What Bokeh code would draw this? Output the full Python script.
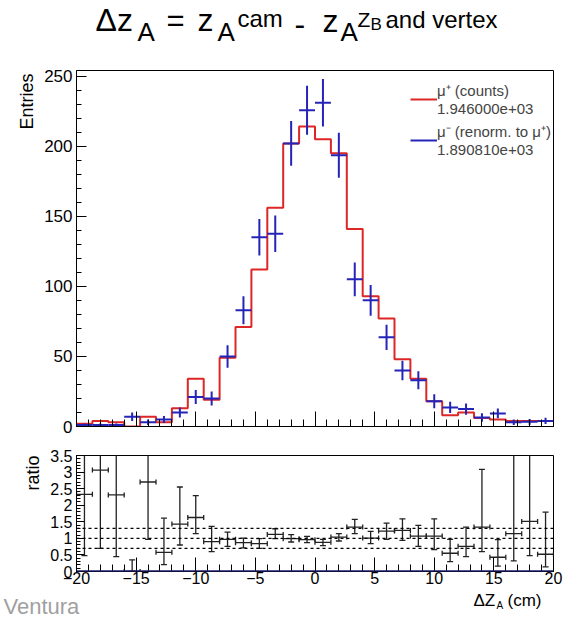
import numpy as np
from bokeh.plotting import figure
from bokeh.models import (Range1d, SingleIntervalTicker, CustomJSTickFormatter, Label, Span,
                          Legend, LegendItem, ColumnDataSource, Title)
from bokeh.layouts import column
from bokeh.embed import file_html
from bokeh.resources import INLINE

# ---------------- data ----------------
x_min, x_max, n_bins = -20.0, 20.0, 30
mu_plus_counts = [2, 4, 3, 0, 7, 3, 13, 34, 19, 49, 71, 112, 156, 202, 214,
                  205, 195, 141, 93, 77, 48, 34, 18, 8, 10, 6, 5, 4, 4, 4]
mu_minus_renorm = [1, 1, 1, 7, 3, 5, 10, 21, 20, 50, 83, 135, 137.5, 202, 225.7,
                   231, 193.5, 105, 90, 63.6, 40, 33, 18, 13.6, 12.4, 6.4, 9.3, 3, 3.3, 4]
mu_minus_err = [1.2, 1.2, 1.2, 3, 2, 2.5, 3.5, 5, 5, 8, 10, 13, 13, 16, 17.5,
                17, 16, 12, 11, 9, 7, 6.5, 5, 4, 4, 3, 3.5, 2, 2, 2.2]
ratio_val = [2.33, 3.06, 2.31, 0.0, 2.70, 0.58, 1.43, 1.63, 0.90, 0.97, 0.87, 0.84, 1.12, 0.99, 0.96,
             0.88, 1.04, 1.34, 1.01, 1.22, 1.24, 1.07, 1.07, 0.55, 0.76, 1.34, 0.43, 1.14, 1.51, 0.52]
ratio_low = [0.48, 0.70, 0.45, 0.0, 0.97, 0.21, 0.80, 1.14, 0.60, 0.76, 0.71, 0.70, 0.99, 0.89, 0.87,
             0.78, 0.92, 1.14, 0.84, 0.97, 0.94, 0.76, 0.66, 0.30, 0.45, 0.60, 0.16, 0.32, 0.48, 0.14]
ratio_high = [4.5, 6.0, 5.0, 0.35, 5.5, 1.61, 2.55, 2.29, 1.36, 1.19, 1.01, 0.99, 1.29, 1.11, 1.06,
              0.97, 1.14, 1.57, 1.21, 1.46, 1.59, 1.39, 1.59, 0.97, 1.34, 3.08, 0.96, 5.0, 5.0, 1.79]
ratio_ref_lines = [0.7, 1.0, 1.3]
legend_labels = ["\u03bc\u207a (counts)\n1.946000e+03",
                 "\u03bc\u207b (renorm. to \u03bc\u207a)\n1.890810e+03"]

# ---------------- derived ----------------
edges = np.linspace(x_min, x_max, n_bins + 1)
left, right = edges[:-1], edges[1:]
centers = 0.5 * (left + right)
mm = np.array(mu_minus_renorm)
me = np.array(mu_minus_err)

FONT = "Liberation Sans"
RED = "#dd2626"
BLUE = "#2424b8"
W = 564
FRAME_L, FRAME_R = 76, 11


def blank_fig(h):
    f = figure(width=W, height=h, x_range=Range1d(0, 1), y_range=Range1d(0, 1),
               output_backend="svg", toolbar_location=None, title=None, min_border=0,
               x_axis_location=None, y_axis_location=None)
    f.outline_line_color = None
    f.grid.visible = False
    off = 0
    if "frame_align" in f.properties():
        f.frame_align = False
    else:
        off = FRAME_L
    return f, off, h


def lab(fig, text, x, baseline, size, color="black"):
    f, off, h = fig
    # place the text so that its baseline lands at the given pixel row of the figure
    f.add_layout(Label(x=x - off, y=h - baseline + 0.3 * size, x_units="screen", y_units="screen",
                       text=text, text_font=FONT, text_font_size=f"{size}px", text_color=color,
                       text_baseline="alphabetic"))


# ---------------- title (rows 0..63) ----------------
tf = blank_fig(63)
lab(tf, "\u0394z", 95, 29, 32)
lab(tf, "A", 137, 39, 26)
lab(tf, "=", 166, 29, 31)
lab(tf, "z", 197, 29, 32)
lab(tf, "A", 217, 39, 26)
lab(tf, "cam", 237, 25, 24)
lab(tf, "-", 294, 33, 32)
lab(tf, "z", 322, 30, 32)
lab(tf, "A", 340, 39, 26)
lab(tf, "Z", 357, 25, 21)
lab(tf, "B", 370, 29, 17)
lab(tf, "and vertex", 385, 26, 24)


def style_axes(f, size):
    for ax in list(f.xaxis) + list(f.yaxis):
        ax.axis_line_color = "black"
        ax.major_tick_line_color = "black"
        ax.minor_tick_line_color = "black"
        ax.major_label_text_font = FONT
        ax.major_label_text_font_size = size
        ax.major_label_text_color = "black"


def ytitle(f, text, standoff, offset):
    f.add_layout(Title(text=text, align="right", vertical_align="bottom", text_font=FONT,
                       text_font_size="18px", text_font_style="normal", text_color="black",
                       standoff=standoff, offset=offset), "left")


# ---------------- top panel (rows 63..448) ----------------
top = figure(width=W, height=385, x_range=Range1d(x_min, x_max), y_range=Range1d(0, 254),
             output_backend="svg", toolbar_location=None, title=None,
             min_border_left=FRAME_L, min_border_right=FRAME_R, min_border_top=7, min_border_bottom=22)
top.grid.visible = False
top.outline_line_color = "black"
top.xaxis.ticker = SingleIntervalTicker(interval=5, num_minor_ticks=5)
top.xaxis.formatter = CustomJSTickFormatter(code="return ''")
top.xaxis.major_label_standoff = 0
top.yaxis.ticker = SingleIntervalTicker(interval=50, num_minor_ticks=5)
for ax in top.xaxis:
    ax.major_tick_in, ax.major_tick_out, ax.minor_tick_in, ax.minor_tick_out = 15, 0, 7, 0
for ax in top.yaxis:
    ax.major_tick_in, ax.major_tick_out, ax.minor_tick_in, ax.minor_tick_out = 10, 0, 5, 0
    ax.major_label_standoff = 4
style_axes(top, "17px")

r_red = top.step(x=list(edges), y=mu_plus_counts + [mu_plus_counts[-1]], mode="after",
                 line_color=RED, line_width=2)
src = ColumnDataSource(dict(l=left, r=right, c=centers, v=mm, lo=mm - me, hi=mm + me))
r_blue = top.segment(x0="l", y0="v", x1="r", y1="v", source=src, line_color=BLUE, line_width=2)
top.segment(x0="c", y0="lo", x1="c", y1="hi", source=src, line_color=BLUE, line_width=2)

legend = Legend(items=[LegendItem(label=legend_labels[0], renderers=[r_red]),
                       LegendItem(label=legend_labels[1], renderers=[r_blue])],
                location=(334, 268), border_line_color=None, background_fill_alpha=0,
                label_text_font=FONT, label_text_font_size="15px", label_text_line_height=1.1,
                glyph_width=27, glyph_height=34, label_height=34, label_standoff=0, spacing=4,
                padding=0, margin=0)
top.add_layout(legend)
ytitle(top, "Entries", 10, 3)

# ---------------- ratio panel (rows 448..590) ----------------
rat = figure(width=W, height=142, x_range=Range1d(x_min, x_max), y_range=Range1d(0, 3.5),
             output_backend="svg", toolbar_location=None, title=None,
             min_border_left=FRAME_L, min_border_right=FRAME_R, min_border_top=7, min_border_bottom=19)
rat.grid.visible = False
rat.outline_line_color = "black"
rat.xaxis.ticker = SingleIntervalTicker(interval=5, num_minor_ticks=5)
rat.xaxis.formatter = CustomJSTickFormatter(
    code="return tick < 0 ? '\u2212' + Math.abs(tick).toString() : tick.toString()")
rat.yaxis.ticker = SingleIntervalTicker(interval=0.5, num_minor_ticks=5)
rat.yaxis.formatter = CustomJSTickFormatter(code="return (Math.round(tick*10)/10).toString()")
for ax in rat.xaxis:
    ax.major_tick_in, ax.major_tick_out, ax.minor_tick_in, ax.minor_tick_out = 14, 0, 7, 0
    ax.major_label_standoff = 0
for ax in rat.yaxis:
    ax.major_tick_in, ax.major_tick_out, ax.minor_tick_in, ax.minor_tick_out = 8, 0, 4, 0
    ax.major_label_standoff = 4
style_axes(rat, "16px")

for yv in ratio_ref_lines:
    rat.add_layout(Span(location=yv, dimension="width", line_color="black",
                        line_width=1.3, line_dash="3 3"))

rsrc = ColumnDataSource(dict(l=left, r=right, c=centers, v=ratio_val, lo=ratio_low, hi=ratio_high))
EC = "#222222"
rat.segment(x0="l", y0="v", x1="r", y1="v", source=rsrc, line_color=EC, line_width=1.3)
rat.segment(x0="c", y0="lo", x1="c", y1="hi", source=rsrc, line_color=EC, line_width=1.3)
rat.scatter(x="c", y="hi", source=rsrc, marker="dash", size=6, line_color=EC, line_width=1.3)
rat.scatter(x="c", y="lo", source=rsrc, marker="dash", size=6, line_color=EC, line_width=1.3)
rat.scatter(x="l", y="v", source=rsrc, marker="dash", angle=np.pi / 2, size=5, line_color=EC, line_width=1.3)
rat.scatter(x="r", y="v", source=rsrc, marker="dash", angle=np.pi / 2, size=5, line_color=EC, line_width=1.3)
rat.add_layout(Span(location=0, dimension="width", line_color="#1c1c70", line_width=2.5))
ytitle(rat, "ratio", 10, 0)

# ---------------- footer (rows 590..620) ----------------
ft = blank_fig(30)
lab(ft, "\u0394Z", 473, 15, 17)
lab(ft, "A", 496, 18, 10)
lab(ft, "(cm)", 507, 15, 17)
lab(ft, "Ventura", 3, 23, 22, color="#a0a0a0")

layout = column(tf[0], top, rat, ft[0], spacing=0)
open("out.html", "w").write(file_html(layout, INLINE))
